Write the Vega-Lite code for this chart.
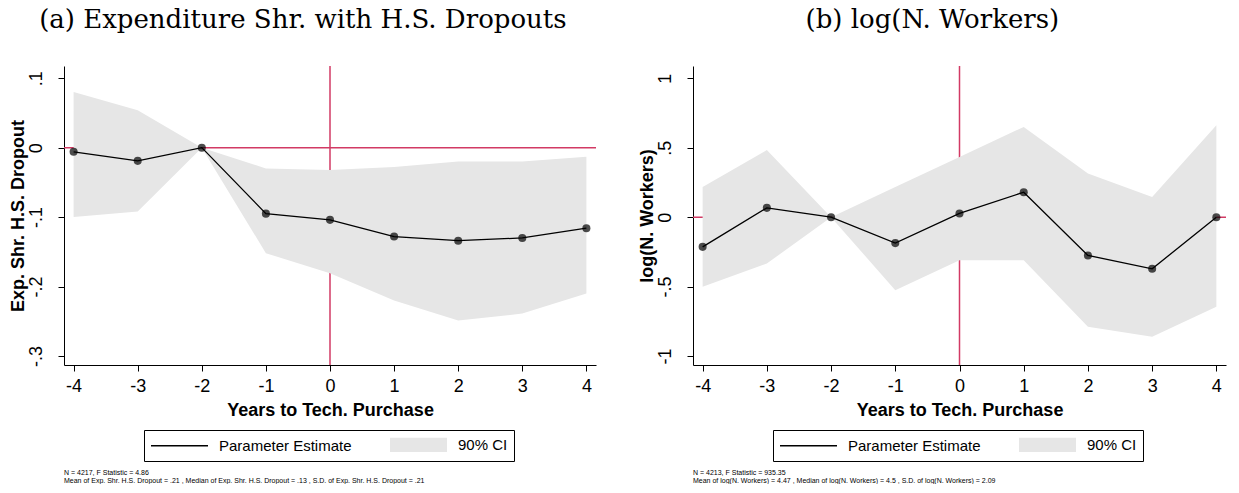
{
  "$schema": "https://vega.github.io/schema/vega-lite/v6.json",
  "padding": {"left": 9, "top": 7, "right": 5, "bottom": 0},
  "background": "white",
  "config": {
    "view": {"stroke": null},
    "axis": {"domainColor": "black", "tickColor": "black", "labelColor": "black", "titleColor": "black", "grid": false, "labelFont": "Liberation Sans", "titleFont": "Liberation Sans", "labelFontSize": 18, "titleFontSize": 18, "titleFontWeight": "bold", "tickSize": 6}
  },
  "datasets": {
    "a": [
      {"t": -4, "est": -0.006, "lo": -0.100, "hi": 0.080},
      {"t": -3, "est": -0.019, "lo": -0.092, "hi": 0.054},
      {"t": -2, "est": 0.000, "lo": 0.000, "hi": 0.000},
      {"t": -1, "est": -0.095, "lo": -0.152, "hi": -0.030},
      {"t": 0, "est": -0.104, "lo": -0.181, "hi": -0.032},
      {"t": 1, "est": -0.128, "lo": -0.220, "hi": -0.028},
      {"t": 2, "est": -0.134, "lo": -0.249, "hi": -0.020},
      {"t": 3, "est": -0.130, "lo": -0.239, "hi": -0.020},
      {"t": 4, "est": -0.116, "lo": -0.210, "hi": -0.013}
    ],
    "b": [
      {"t": -4, "est": -0.214, "lo": -0.502, "hi": 0.218},
      {"t": -3, "est": 0.067, "lo": -0.334, "hi": 0.483},
      {"t": -2, "est": 0.000, "lo": 0.000, "hi": 0.000},
      {"t": -1, "est": -0.187, "lo": -0.526, "hi": 0.218},
      {"t": 0, "est": 0.027, "lo": -0.310, "hi": 0.434},
      {"t": 1, "est": 0.180, "lo": -0.310, "hi": 0.650},
      {"t": 2, "est": -0.276, "lo": -0.790, "hi": 0.315},
      {"t": 3, "est": -0.372, "lo": -0.862, "hi": 0.146},
      {"t": 4, "est": 0.000, "lo": -0.646, "hi": 0.663}
    ]
  },
  "resolve": {"scale": {"color": "independent"}, "legend": {"color": "independent"}},
  "spacing": 41,
  "hconcat": [
    {
      "title": {"text": "(a) Expenditure Shr. with H.S. Dropouts", "font": "DejaVu Serif", "fontSize": 26, "fontWeight": "normal", "anchor": "middle", "color": "black", "offset": 32},
      "resolve": {"scale": {"color": "independent"}, "legend": {"color": "independent"}},
      "vconcat": [
        {
          "width": 532,
          "height": 299,
          "title": {"text": ["N = 4217, F Statistic = 4.86", "Mean of Exp. Shr. H.S. Dropout = .21 , Median of Exp. Shr. H.S. Dropout = .13 , S.D. of Exp. Shr. H.S. Dropout = .21"], "orient": "bottom", "anchor": "start", "frame": "group", "font": "Liberation Sans", "fontSize": 7, "fontWeight": "normal", "lineHeight": 8.3, "baseline": "top", "offset": 7, "color": "black"},
          "data": {"name": "a"},
          "layer": [
            {
              "data": {"values": [{}]},
              "mark": {"type": "rule", "color": "#d23a64", "strokeWidth": 1.5},
              "encoding": {"y": {"datum": 0, "type": "quantitative", "scale": {"domain": [-0.313, 0.1176], "nice": false, "zero": false}}}
            },
            {
              "data": {"values": [{}]},
              "mark": {"type": "rule", "color": "#d23a64", "strokeWidth": 1.5},
              "encoding": {"x": {"datum": 0, "type": "quantitative", "scale": {"domain": [-4.15, 4.15], "nice": false, "zero": false}}}
            },
            {
              "mark": {"type": "area"},
              "encoding": {
                "x": {"field": "t", "type": "quantitative", "scale": {"domain": [-4.15, 4.15], "nice": false, "zero": false},
                      "axis": {"title": "Years to Tech. Purchase", "values": [-4, -3, -2, -1, 0, 1, 2, 3, 4], "labelExpr": "(datum.value < 0 ? '-' : '') + format(abs(datum.value), 'd')", "labelPadding": 6, "titlePadding": 6}},
                "y": {"field": "lo", "type": "quantitative", "scale": {"domain": [-0.313, 0.1176], "nice": false, "zero": false},
                      "axis": {"title": "Exp. Shr. H.S. Dropout", "values": [-0.3, -0.2, -0.1, 0, 0.1], "labelAngle": 270, "labelAlign": "center", "labelBaseline": "alphabetic", "labelPadding": 17, "titlePadding": 0, "labelExpr": "(datum.value < 0 ? '-' : '') + replace(format(abs(datum.value), '.1~f'), '0.', '.')"}},
                "y2": {"field": "hi"},
                "color": {"datum": "90% CI", "type": "nominal",
                          "scale": {"domain": ["Parameter Estimate", "90% CI"], "range": ["black", "#e6e6e6"]},
                          "legend": {"orient": "none", "legendX": 80, "legendY": 364, "direction": "horizontal", "title": null, "strokeColor": "black", "padding": 6, "labelFont": "Liberation Sans", "labelFontSize": 15, "labelColor": "black", "labelOffset": 52, "columnPadding": 35, "symbolSize": 225, "labelLimit": 300,
                                     "encode": {"symbols": {"update": {
                                        "shape": {"signal": "datum.value === '90% CI' ? 'M-1,-0.95H6.6V0.95H-1Z' : 'M-1,0H6.6'"},
                                        "fill": {"signal": "datum.value === '90% CI' ? '#e6e6e6' : 'transparent'"},
                                        "stroke": {"signal": "datum.value === '90% CI' ? 'transparent' : 'black'"},
                                        "strokeWidth": {"value": 1.3}}}}}}
              }
            },
            {
              "mark": {"type": "line", "strokeWidth": 1.3, "color": "black"},
              "encoding": {
                "x": {"field": "t", "type": "quantitative"},
                "y": {"field": "est", "type": "quantitative"}
              }
            },
            {
              "mark": {"type": "point", "filled": true, "size": 65, "color": "black"},
              "encoding": {
                "x": {"field": "t", "type": "quantitative"},
                "y": {"field": "est", "type": "quantitative"}
              }
            }
          ]
        }
      ]
    },
    {
      "title": {"text": "(b) log(N. Workers)", "font": "DejaVu Serif", "fontSize": 26, "fontWeight": "normal", "anchor": "middle", "color": "black", "offset": 32},
      "resolve": {"scale": {"color": "independent"}, "legend": {"color": "independent"}},
      "vconcat": [
        {
          "width": 533,
          "height": 299,
          "title": {"text": ["N = 4213, F Statistic = 935.35", "Mean of log(N. Workers) = 4.47 , Median of log(N. Workers) = 4.5 , S.D. of log(N. Workers) = 2.09"], "orient": "bottom", "anchor": "start", "frame": "group", "font": "Liberation Sans", "fontSize": 7, "fontWeight": "normal", "lineHeight": 8.3, "baseline": "top", "offset": 7, "color": "black"},
          "data": {"name": "b"},
          "layer": [
            {
              "data": {"values": [{}]},
              "mark": {"type": "rule", "color": "#d23a64", "strokeWidth": 1.5},
              "encoding": {"y": {"datum": 0, "type": "quantitative", "scale": {"domain": [-1.065, 1.089], "nice": false, "zero": false}}}
            },
            {
              "data": {"values": [{}]},
              "mark": {"type": "rule", "color": "#d23a64", "strokeWidth": 1.5},
              "encoding": {"x": {"datum": 0, "type": "quantitative", "scale": {"domain": [-4.15, 4.15], "nice": false, "zero": false}}}
            },
            {
              "mark": {"type": "area"},
              "encoding": {
                "x": {"field": "t", "type": "quantitative", "scale": {"domain": [-4.15, 4.15], "nice": false, "zero": false},
                      "axis": {"title": "Years to Tech. Purchase", "values": [-4, -3, -2, -1, 0, 1, 2, 3, 4], "labelExpr": "(datum.value < 0 ? '-' : '') + format(abs(datum.value), 'd')", "labelPadding": 6, "titlePadding": 6}},
                "y": {"field": "lo", "type": "quantitative", "scale": {"domain": [-1.065, 1.089], "nice": false, "zero": false},
                      "axis": {"title": "log(N. Workers)", "values": [-1, -0.5, 0, 0.5, 1], "labelAngle": 270, "labelAlign": "center", "labelBaseline": "alphabetic", "labelPadding": 17, "titlePadding": 0, "labelExpr": "(datum.value < 0 ? '-' : '') + replace(format(abs(datum.value), '.1~f'), '0.', '.')"}},
                "y2": {"field": "hi"},
                "color": {"datum": "90% CI", "type": "nominal",
                          "scale": {"domain": ["Parameter Estimate", "90% CI"], "range": ["black", "#e6e6e6"]},
                          "legend": {"orient": "none", "legendX": 80, "legendY": 364, "direction": "horizontal", "title": null, "strokeColor": "black", "padding": 6, "labelFont": "Liberation Sans", "labelFontSize": 15, "labelColor": "black", "labelOffset": 52, "columnPadding": 35, "symbolSize": 225, "labelLimit": 300,
                                     "encode": {"symbols": {"update": {
                                        "shape": {"signal": "datum.value === '90% CI' ? 'M-1,-0.95H6.6V0.95H-1Z' : 'M-1,0H6.6'"},
                                        "fill": {"signal": "datum.value === '90% CI' ? '#e6e6e6' : 'transparent'"},
                                        "stroke": {"signal": "datum.value === '90% CI' ? 'transparent' : 'black'"},
                                        "strokeWidth": {"value": 1.3}}}}}}
              }
            },
            {
              "mark": {"type": "line", "strokeWidth": 1.3, "color": "black"},
              "encoding": {
                "x": {"field": "t", "type": "quantitative"},
                "y": {"field": "est", "type": "quantitative"}
              }
            },
            {
              "mark": {"type": "point", "filled": true, "size": 65, "color": "black"},
              "encoding": {
                "x": {"field": "t", "type": "quantitative"},
                "y": {"field": "est", "type": "quantitative"}
              }
            }
          ]
        }
      ]
    }
  ]
}
